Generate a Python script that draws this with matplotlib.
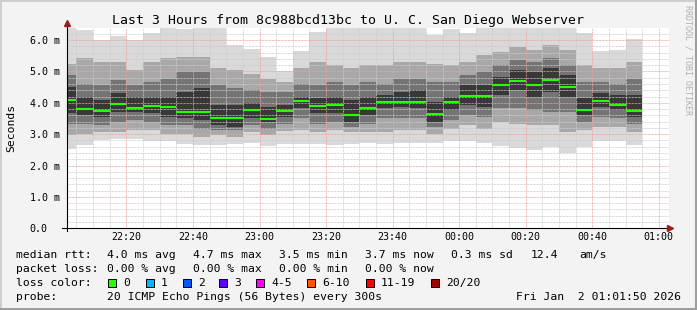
import numpy as np
import matplotlib.pyplot as plt
import matplotlib.transforms as mtransforms
from matplotlib.lines import Line2D
from matplotlib.patches import Rectangle

W, H = 697, 310
FONT = 'DejaVu Sans Mono'

# 5 minute steps, minutes after 22:00 (start of each step)
step_start = np.arange(0, 175, 5)

# smoke (ms), outer band to inner band
ping_min = [2.54, 2.67, 2.81, 2.86, 2.85, 2.79, 2.79, 2.68, 2.65, 2.65, 2.68, 2.72,
            2.62, 2.70, 2.68, 2.68, 2.65, 2.68, 2.72, 2.68, 2.72, 2.72, 2.72, 2.79,
            2.79, 2.72, 2.62, 2.57, 2.51, 2.60, 2.40, 2.60, 2.79, 2.79, 2.65]
ping_p10 = [2.97, 3.02, 3.07, 3.07, 3.13, 3.13, 3.02, 3.02, 2.92, 2.97, 2.92, 3.07,
            2.97, 3.10, 3.13, 3.07, 3.13, 3.07, 3.07, 3.07, 3.13, 3.13, 3.02, 3.18,
            3.29, 3.18, 3.39, 3.34, 3.29, 3.29, 3.07, 3.13, 3.23, 3.23, 3.07]
ping_p25 = [3.34, 3.34, 3.29, 3.39, 3.44, 3.39, 3.29, 3.29, 3.18, 3.13, 3.13, 3.29,
            3.18, 3.34, 3.50, 3.34, 3.39, 3.23, 3.34, 3.50, 3.50, 3.50, 3.23, 3.44,
            3.61, 3.55, 3.82, 3.82, 3.77, 3.71, 3.71, 3.39, 3.55, 3.50, 3.34]
ping_p40 = [3.66, 3.60, 3.55, 3.71, 3.71, 3.66, 3.55, 3.50, 3.45, 3.29, 3.23, 3.50,
            3.39, 3.55, 3.82, 3.66, 3.66, 3.39, 3.60, 3.82, 3.88, 3.82, 3.39, 3.77,
            3.93, 3.88, 4.24, 4.40, 4.19, 4.35, 4.19, 3.60, 3.88, 3.77, 3.55]
median = [4.10, 3.80, 3.73, 3.97, 3.84, 3.90, 3.87, 3.71, 3.71, 3.52, 3.52, 3.77,
          3.48, 3.73, 4.05, 3.90, 3.93, 3.61, 3.84, 4.02, 4.04, 4.02, 3.64, 4.02,
          4.23, 4.23, 4.56, 4.69, 4.56, 4.73, 4.50, 3.77, 4.05, 3.93, 3.73]
ping_p60 = [4.50, 4.19, 4.08, 4.30, 4.19, 4.19, 4.19, 4.35, 4.46, 3.93, 3.93, 3.98,
            3.88, 3.93, 4.19, 4.14, 4.19, 4.08, 4.19, 4.24, 4.35, 4.40, 4.03, 4.19,
            4.56, 4.56, 4.83, 5.04, 4.99, 5.10, 4.88, 4.14, 4.30, 4.24, 4.24]
ping_p75 = [4.88, 4.61, 4.56, 4.72, 4.56, 4.67, 4.77, 4.99, 4.99, 4.56, 4.46, 4.40,
            4.35, 4.35, 4.61, 4.56, 4.67, 4.56, 4.67, 4.61, 4.77, 4.77, 4.67, 4.67,
            4.88, 4.99, 5.20, 5.36, 5.30, 5.42, 5.20, 4.67, 4.67, 4.61, 4.77]
ping_p90 = [5.23, 5.42, 5.30, 5.30, 5.04, 5.30, 5.42, 5.47, 5.47, 5.10, 5.04, 4.93,
            4.77, 4.67, 5.10, 5.30, 5.20, 5.10, 5.20, 5.20, 5.30, 5.30, 5.25, 5.20,
            5.30, 5.52, 5.63, 5.79, 5.68, 5.84, 5.68, 5.20, 5.10, 5.10, 5.30]
ping_max = [6.50, 6.32, 6.00, 6.13, 6.00, 6.21, 6.37, 6.34, 6.37, 6.50, 5.84, 5.70,
            5.47, 5.02, 5.66, 6.27, 6.50, 6.37, 6.37, 6.37, 6.37, 6.37, 6.16, 6.34,
            6.21, 6.37, 6.50, 6.50, 6.50, 6.50, 6.50, 6.21, 5.66, 5.68, 6.02]

xtick_min = [20, 40, 60, 80, 100, 120, 140, 160, 180]
xtick_lab = ['22:20', '22:40', '23:00', '23:20', '23:40', '00:00', '00:20', '00:40', '01:00']
ytick_val = [0, 1, 2, 3, 4, 5, 6]
ytick_lab = ['0.0', '1.0 m', '2.0 m', '3.0 m', '4.0 m', '5.0 m', '6.0 m']

loss_lab = ['0', '1', '2', '3', '4-5', '6-10', '11-19', '20/20']
loss_col = ['#26ff00', '#00b8ff', '#0059ff', '#5e00ff', '#ff00ff', '#ff5500', '#ff0000', '#a10000']


def fx(x):
    return x / W


def fy(y):
    return 1 - y / H


fig = plt.figure(figsize=(W / 100, H / 100), dpi=100, facecolor='#f3f3f3')

# plot area in pixels: x 66.5..668.5, y 27.5..228.3
ax = fig.add_axes([fx(66.5), fy(228.3), (668.5 - 66.5) / W, (228.3 - 27.5) / H])
ax.set_facecolor('white')
ax.set_xlim(2.0, 182.9)
ax.set_ylim(0, 6.4)
for s in ax.spines.values():
    s.set_visible(False)

# smoke bands
bands = [(ping_min, ping_max, '#d9d9d9'),
         (ping_p10, ping_p90, '#a8a8a8'),
         (ping_p25, ping_p75, '#747474'),
         (ping_p40, ping_p60, '#383838')]
for lo, hi, c in bands:
    lo = np.array(lo)
    hi = np.array(hi)
    ax.bar(step_start, hi - lo, bottom=lo, width=5, align='edge', color=c,
           linewidth=0, zorder=1)

# grid
dot = (0, (0.72, 0.72))
for m in range(5, 185, 5):
    if m % 20 == 0:
        continue
    ax.axvline(m, color='#cccccc', lw=0.72, ls=dot, zorder=2)
for v in np.arange(0.2, 6.4, 0.2):
    if abs(v - round(v)) < 1e-6:
        continue
    ax.axhline(v, color='#cccccc', lw=0.72, ls=dot, zorder=2)
for m in xtick_min:
    ax.axvline(m, color='#f0a0a0', lw=0.72, ls=dot, zorder=2)
for v in ytick_val[1:]:
    ax.axhline(v, color='#f0a0a0', lw=0.72, ls=dot, zorder=2)

# median
ax.hlines(median, step_start, step_start + 5, color=loss_col[0], lw=1.5, zorder=3)

ax.set_xticks(xtick_min)
ax.set_xticklabels(xtick_lab, fontfamily=FONT, fontsize=7.2)
ax.tick_params(axis='x', length=0, pad=3)
ax.set_yticks([])
trans = mtransforms.blended_transform_factory(fig.transFigure, ax.transData)
for v, t in zip(ytick_val, ytick_lab):
    ax.text(fx(29.5), v, t, transform=trans, fontfamily=FONT, fontsize=7.2,
            ha='left', va='center_baseline', clip_on=False)

# axes with arrows
fig.add_artist(Line2D([fx(66.5), fx(66.5)], [fy(231), fy(24)], color='black', lw=0.8))
fig.add_artist(Line2D([fx(62), fx(668)], [fy(228.3), fy(228.3)], color='black', lw=0.8))
fig.add_artist(Line2D([fx(66.5)], [fy(23)], marker='^', ms=4, color='#9b1c1c', lw=0))
fig.add_artist(Line2D([fx(670)], [fy(228.3)], marker='>', ms=4, color='#9b1c1c', lw=0))

fig.text(fx(347.5), fy(24), 'Last 3 Hours from 8c988bcd13bc to U. C. San Diego Webserver',
         fontfamily=FONT, fontsize=9.5, ha='center', va='baseline')
fig.text(fx(11), fy(128), 'Seconds', fontfamily=FONT, fontsize=8.2, rotation=90,
         ha='center', va='center')
fig.text(fx(688), fy(5), 'RRDTOOL / TOBI OETIKER', fontfamily=FONT, fontsize=6,
         rotation=270, ha='center', va='top', color='#b0b0b0')

# legend
row_y = [258.3, 272.3, 286.3, 300.3]
col_x = [107.3, 193.3, 279.3, 365.3, 451]
fs = 8.2
fig.text(fx(16), fy(row_y[0]), 'median rtt:', fontfamily=FONT, fontsize=fs, va='baseline')
for x, t in zip(col_x, ['4.0 ms avg', '4.7 ms max', '3.5 ms min', '3.7 ms now', '0.3 ms sd']):
    fig.text(fx(x), fy(row_y[0]), t, fontfamily=FONT, fontsize=fs, va='baseline')
fig.text(fx(530.7), fy(row_y[0]), '12.4', fontfamily=FONT, fontsize=fs, va='baseline')
fig.text(fx(579.3), fy(row_y[0]), 'am/s', fontfamily=FONT, fontsize=fs, va='baseline')

fig.text(fx(16), fy(row_y[1]), 'packet loss:', fontfamily=FONT, fontsize=fs, va='baseline')
for x, t in zip(col_x[:4], ['0.00 % avg', '0.00 % max', '0.00 % min', '0.00 % now']):
    fig.text(fx(x), fy(row_y[1]), t, fontfamily=FONT, fontsize=fs, va='baseline')

fig.text(fx(16), fy(row_y[2]), 'loss color:', fontfamily=FONT, fontsize=fs, va='baseline')
box_x = [108.3, 145.7, 182.7, 219.3, 256, 307.3, 365.7, 430.7]
for x, lab, c in zip(box_x, loss_lab, loss_col):
    fig.add_artist(Rectangle((fx(x), fy(286.5)), 8 / W, 8 / H, transform=fig.transFigure,
                             facecolor=c, edgecolor='black', lw=0.7))
    fig.text(fx(x + 15), fy(row_y[2]), lab, fontfamily=FONT, fontsize=fs, va='baseline')

fig.text(fx(16), fy(row_y[3]), 'probe:', fontfamily=FONT, fontsize=fs, va='baseline')
fig.text(fx(107.3), fy(row_y[3]), '20 ICMP Echo Pings (56 Bytes) every 300s',
         fontfamily=FONT, fontsize=fs, va='baseline')
fig.text(fx(680.5), fy(row_y[3]), 'Fri Jan  2 01:01:50 2026', fontfamily=FONT,
         fontsize=fs, va='baseline', ha='right')

# image border
fig.add_artist(Line2D([0, 1], [fy(0.5), fy(0.5)], color='#cfcfcf', lw=1.4))
fig.add_artist(Line2D([fx(0.5), fx(0.5)], [0, 1], color='#cfcfcf', lw=1.4))
fig.add_artist(Line2D([0, 1], [fy(308.5), fy(308.5)], color='#9e9e9e', lw=2.2))
fig.add_artist(Line2D([fx(695.5), fx(695.5)], [0, 1], color='#9e9e9e', lw=2.2))

fig.savefig('out.png', dpi=100, facecolor=fig.get_facecolor())
